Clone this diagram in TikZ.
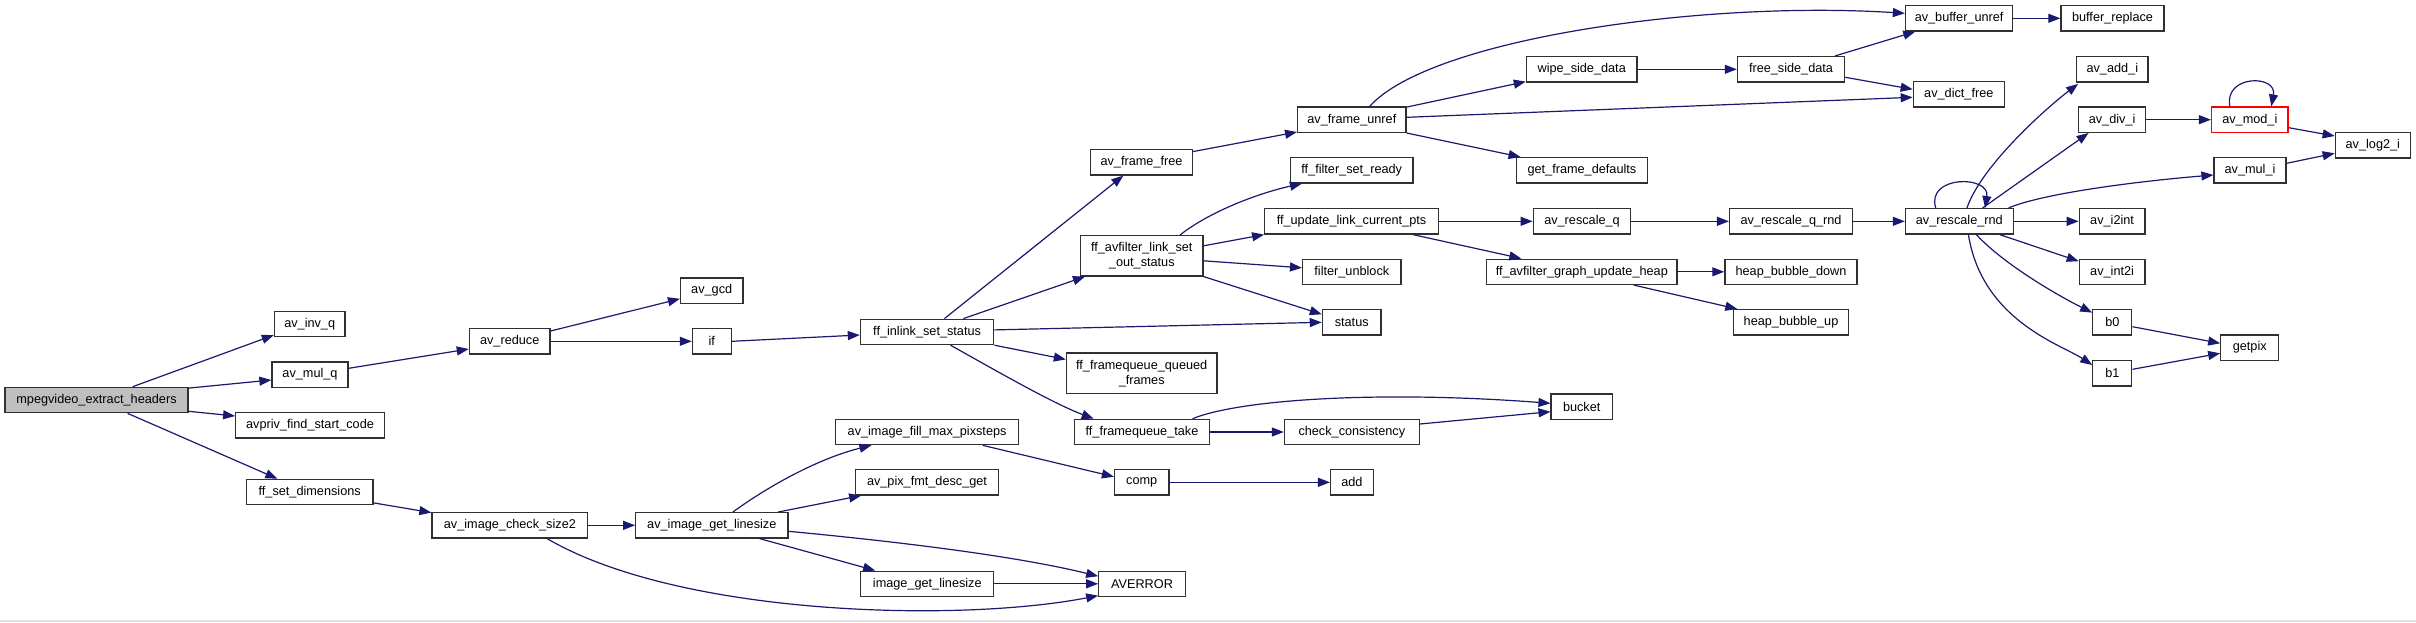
\documentclass[tikz,border=0pt]{standalone}
\usepackage{fontspec}
\setmainfont{Liberation Sans}
\usetikzlibrary{arrows.meta}
\definecolor{navyline}{RGB}{25,25,112}
\definecolor{boxline}{RGB}{48,48,48}
\definecolor{rootfill}{RGB}{191,191,191}
\definecolor{bottomgray}{RGB}{224,224,224}
\newcommand\lblfont{\fontsize{12.7pt}{15pt}\selectfont}
\tikzset{
  box/.style={draw=boxline, line width=1.3pt, minimum height=25.3pt, inner sep=0pt, font=\lblfont, align=center, fill=white},
  twoline/.style={minimum height=40.3pt},
  callarrow/.style={draw=navyline, line width=1.2pt, -{Triangle[length=12pt,width=9pt]}},
}
\begin{document}
\begin{tikzpicture}[x=1pt,y=-1pt]
\fill[white] (0,0) rectangle (2416,622);
\useasboundingbox (0,0) rectangle (2416,622);
\fill[bottomgray] (0,620) rectangle (2416,622);

% nodes
\node[box, minimum width=183pt, fill=rootfill] (mpeg) at (96.5,400) {mpegvideo\_extract\_headers};
\node[box, minimum width=70.5pt] (avinvq) at (309.7,323.8) {av\_inv\_q};
\node[box, minimum width=76pt] (avmulq) at (310,374.5) {av\_mul\_q};
\node[box, minimum width=148.5pt] (avpriv) at (310,425.3) {avpriv\_find\_start\_code};
\node[box, minimum width=126.6pt] (ffset) at (309.7,492) {ff\_set\_dimensions};
\node[box, minimum width=80.6pt] (avreduce) at (509.7,341.3) {av\_reduce};
\node[box, minimum width=62.3pt] (avgcd) at (711.7,290.5) {av\_gcd};
\node[box, minimum width=38.8pt] (ifn) at (711.8,341.3) {if};
\node[box, minimum width=155.8pt] (aics) at (509.9,525.3) {av\_image\_check\_size2};
\node[box, minimum width=152.1pt] (aigl) at (711.8,525.3) {av\_image\_get\_linesize};
\node[box, minimum width=182.9pt] (afmp) at (927.1,432) {av\_image\_fill\_max\_pixsteps};
\node[box, minimum width=142.5pt] (apfd) at (927,482.3) {av\_pix\_fmt\_desc\_get};
\node[box, minimum width=133pt] (igl) at (927.3,583.8) {image\_get\_linesize};
\node[box, minimum width=133.3pt] (inlink) at (927.1,331.9) {ff\_inlink\_set\_status};
\node[box, minimum width=86.4pt] (averror) at (1142,583.8) {AVERROR};
\node[box, minimum width=54.4pt] (comp) at (1141.7,482.3) {comp};
\node[box, minimum width=134.7pt] (take) at (1142,432) {ff\_framequeue\_take};
\node[box, twoline, minimum width=150.5pt] (queued) at (1141.7,373.2) {ff\_framequeue\_queued\\\_frames};
\node[box, twoline, minimum width=122.4pt] (linkout) at (1141.8,255.8) {ff\_avfilter\_link\_set\\\_out\_status};
\node[box, minimum width=101.5pt] (frfree) at (1141.5,162.3) {av\_frame\_free};
\node[box, minimum width=42.6pt] (add) at (1351.9,482.3) {add};
\node[box, minimum width=134.7pt] (check) at (1351.8,432) {check\_consistency};
\node[box, minimum width=58.6pt] (status) at (1351.7,322.3) {status};
\node[box, minimum width=98.4pt] (unblock) at (1351.8,271.8) {filter\_unblock};
\node[box, minimum width=173.5pt] (pts) at (1351.5,221.3) {ff\_update\_link\_current\_pts};
\node[box, minimum width=122.6pt] (ready) at (1351.7,170.3) {ff\_filter\_set\_ready};
\node[box, minimum width=108.3pt] (unref) at (1351.8,119.7) {av\_frame\_unref};
\node[box, minimum width=61.2pt] (bucket) at (1581.7,406.5) {bucket};
\node[box, minimum width=190.3pt] (heap) at (1581.8,271.8) {ff\_avfilter\_graph\_update\_heap};
\node[box, minimum width=97.5pt] (rq) at (1582,221.3) {av\_rescale\_q};
\node[box, minimum width=130.6pt] (gfd) at (1581.9,170.3) {get\_frame\_defaults};
\node[box, minimum width=110.6pt] (wipe) at (1581.7,69.3) {wipe\_side\_data};
\node[box, minimum width=107.2pt] (freesd) at (1791,69.3) {free\_side\_data};
\node[box, minimum width=122.8pt] (rqr) at (1791,221.3) {av\_rescale\_q\_rnd};
\node[box, minimum width=132.2pt] (hbd) at (1791,271.8) {heap\_bubble\_down};
\node[box, minimum width=115.5pt] (hbu) at (1791,322.3) {heap\_bubble\_up};
\node[box, minimum width=107.2pt] (bufunref) at (1959.1,18.3) {av\_buffer\_unref};
\node[box, minimum width=91pt] (dictfree) at (1958.8,94.3) {av\_dict\_free};
\node[box, minimum width=107.7pt] (rr) at (1959.3,221.3) {av\_rescale\_rnd};
\node[box, minimum width=103.1pt] (bufrep) at (2112.5,18.3) {buffer\_replace};
\node[box, minimum width=71.3pt] (addi) at (2112.3,69.3) {av\_add\_i};
\node[box, minimum width=66.6pt] (divi) at (2112.1,119.7) {av\_div\_i};
\node[box, minimum width=65.6pt] (i2int) at (2112.1,221.3) {av\_i2int};
\node[box, minimum width=65.6pt] (int2i) at (2112.1,271.8) {av\_int2i};
\node[box, minimum width=39pt] (bzero) at (2112.3,322.3) {b0};
\node[box, minimum width=39pt] (bone) at (2112.3,373.2) {b1};
\node[box, minimum width=76.5pt, draw=red] (modi) at (2249.8,119.7) {av\_mod\_i};
\node[box, minimum width=71.9pt] (muli) at (2250,170.3) {av\_mul\_i};
\node[box, minimum width=57.8pt] (getpix) at (2249.7,347.7) {getpix};
\node[box, minimum width=75pt] (log2i) at (2372.8,145.3) {av\_log2\_i};

% connectors
\draw[callarrow] ([shift={(36.2,0)}]mpeg.north) -- ([shift={(0,-2)}]avinvq.south west);
\draw[callarrow] ([shift={(0,1.4)}]mpeg.north east) -- ([shift={(0,5.5)}]avmulq.west);
\draw[callarrow] ([shift={(0,-2)}]mpeg.south east) -- ([shift={(0,4)}]avpriv.north west);
\draw[callarrow] ([shift={(31,0)}]mpeg.south) -- ([shift={(31.6,0)}]ffset.north west);
\draw[callarrow] ([shift={(0,-6.2)}]avmulq.east) -- ([shift={(0,7.7)}]avreduce.west);
\draw[callarrow] ([shift={(0,3)}]avreduce.north east) -- ([shift={(0,-5)}]avgcd.south west);
\draw[callarrow] (avreduce.east) -- (ifn.west);
\draw[callarrow] (ifn.east) -- ([shift={(0,3.1)}]inlink.west);
\draw[callarrow] ([shift={(17.3,0)}]inlink.north) -- ([shift={(33.2,0)}]frfree.south west);
\draw[callarrow] ([shift={(36.2,0)}]inlink.north) -- ([shift={(5,0)}]linkout.south west);
\draw[callarrow] ([shift={(0,-2)}]inlink.east) -- (status.west);
\draw[callarrow] (inlink.south east) -- ([shift={(0,7)}]queued.north west);
\draw[callarrow] ([shift={(23.4,0)}]inlink.south) .. controls +(50,28) and +(-40,-15) .. ([shift={(19.7,0)}]take.north west);
\draw[callarrow] ([shift={(0,2.6)}]frfree.north east) -- ([shift={(0,-1)}]unref.south west);
\draw[callarrow] ([shift={(17.8,0)}]unref.north) .. controls +(60,-67) and +(-205,-13) .. ([shift={(0,-5)}]bufunref.west);
\draw[callarrow] ([shift={(0,0.7)}]unref.north east) -- ([shift={(0,-1)}]wipe.south west);
\draw[callarrow] ([shift={(0,-2.4)}]unref.east) -- ([shift={(0,3)}]dictfree.west);
\draw[callarrow] (unref.south east) -- ([shift={(4.6,0)}]gfd.north west);
\draw[callarrow] (wipe.east) -- (freesd.west);
\draw[callarrow] ([shift={(-10.4,0)}]freesd.north east) -- ([shift={(10.4,0)}]bufunref.south west);
\draw[callarrow] ([shift={(0,8)}]freesd.east) -- ([shift={(0,-5)}]dictfree.west);
\draw[callarrow] (bufunref.east) -- (bufrep.west);
\draw[callarrow] ([shift={(38.2,0)}]linkout.north) .. controls +(30,-23.7) and +(-42.6,9.3) .. ([shift={(12.2,0)}]ready.south west);
\draw[callarrow] ([shift={(0,-10)}]linkout.east) -- (pts.south west);
\draw[callarrow] ([shift={(0,5)}]linkout.east) -- ([shift={(0,-4)}]unblock.west);
\draw[callarrow] (linkout.south east) -- ([shift={(0,5.3)}]status.north west);
\draw[callarrow] (pts.east) -- (rq.west);
\draw[callarrow] ([shift={(-26,0)}]pts.south east) -- ([shift={(35.3,0)}]heap.north west);
\draw[callarrow] (rq.east) -- (rqr.west);
\draw[callarrow] (rqr.east) -- (rr.west);
\draw[callarrow] (heap.east) -- (hbd.west);
\draw[callarrow] ([shift={(52,0)}]heap.south) -- ([shift={(4.7,0)}]hbu.north west);
\draw[callarrow] ([shift={(-23.6,0)}]rr.north) .. controls +(-10,-33) and +(5,-33) .. ([shift={(25.8,0)}]rr.north);
\draw[callarrow] ([shift={(7.6,0)}]rr.north) .. controls +(15.1,-43.7) and +(-28.8,21.7) .. ([shift={(2.1,1.3)}]addi.south west);
\draw[callarrow] ([shift={(23.2,0)}]rr.north) -- ([shift={(10.4,0)}]divi.south west);
\draw[callarrow] ([shift={(49.2,0)}]rr.north) .. controls +(31.5,-13.7) and +(-84,7) .. ([shift={(0,4.7)}]muli.west);
\draw[callarrow] (rr.east) -- (i2int.west);
\draw[callarrow] ([shift={(40.4,0)}]rr.south) -- ([shift={(0,2.7)}]int2i.north west);
\draw[callarrow] ([shift={(17,0)}]rr.south) .. controls +(28.7,31) and +(-30.8,-15.3) .. ([shift={(0,3.6)}]bzero.north west);
\draw[callarrow] ([shift={(9.1,0)}]rr.south) .. controls +(13.6,86) and +(-30,-20) .. ([shift={(0,-8.2)}]bone.west);
\draw[callarrow] (divi.east) -- (modi.west);
\draw[callarrow] ([shift={(-20,0)}]modi.north) .. controls +(-6,-32) and +(6,-32) .. ([shift={(21.5,0)}]modi.north);
\draw[callarrow] ([shift={(0,8)}]modi.east) -- ([shift={(0,4)}]log2i.north west);
\draw[callarrow] ([shift={(0,-7)}]muli.east) -- ([shift={(0,8)}]log2i.west);
\draw[callarrow] ([shift={(0,4.4)}]bzero.east) -- ([shift={(0,-4.4)}]getpix.west);
\draw[callarrow] ([shift={(0,-3.9)}]bone.east) -- ([shift={(0,5.6)}]getpix.west);
\draw[callarrow] ([shift={(50.5,0)}]take.north) .. controls +(47.5,-19.3) and +(-171,-13) .. ([shift={(0,-3.2)}]bucket.west);
\draw[callarrow] (take.east) -- (check.west);
\draw[callarrow] ([shift={(0,-8)}]check.east) -- ([shift={(0,5.2)}]bucket.west);
\draw[callarrow] ([shift={(0,-2.4)}]ffset.south east) -- ([shift={(0,0.6)}]aics.north west);
\draw[callarrow] (aics.east) -- (aigl.west);
\draw[callarrow] ([shift={(37.2,0)}]aics.south) .. controls +(132.9,77.7) and +(-138.8,27) .. ([shift={(0,-1.5)}]averror.south west);
\draw[callarrow] ([shift={(21.1,0)}]aigl.north) .. controls +(37.1,-27) and +(-52.1,13) .. ([shift={(36.4,0)}]afmp.south west);
\draw[callarrow] ([shift={(-10.3,0)}]aigl.north east) -- ([shift={(6,0)}]apfd.south west);
\draw[callarrow] ([shift={(0,6)}]aigl.east) .. controls +(92.1,8.7) and +(-88.8,-21.8) .. ([shift={(0,5.7)}]averror.north west);
\draw[callarrow] ([shift={(47.8,0)}]aigl.south) -- ([shift={(15,0)}]igl.north west);
\draw[callarrow] (igl.east) -- (averror.west);
\draw[callarrow] ([shift={(-36.6,0)}]afmp.south east) -- ([shift={(0,-5.6)}]comp.west);
\draw[callarrow] (comp.east) -- (add.west);
\end{tikzpicture}
\end{document}
